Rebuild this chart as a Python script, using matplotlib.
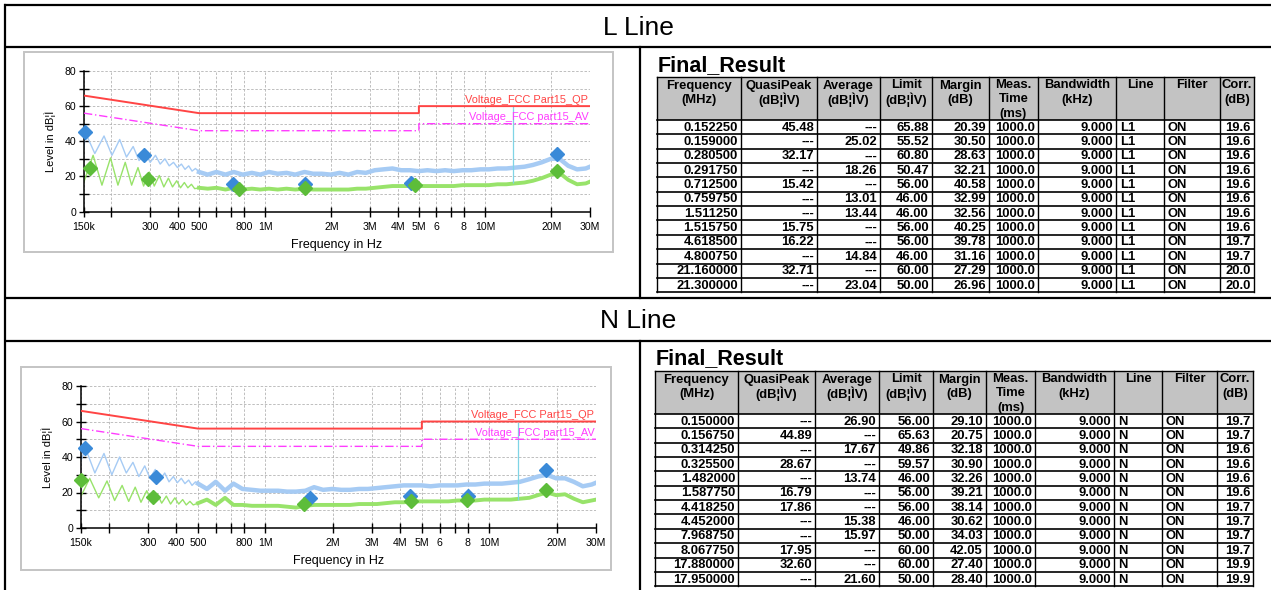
import matplotlib
matplotlib.use("Agg")
import matplotlib.pyplot as plt
from matplotlib import font_manager
from matplotlib.patches import Rectangle
from matplotlib.ticker import FixedLocator, FixedFormatter, NullFormatter

W, H = 1271, 590

installed = {f.name for f in font_manager.fontManager.ttflist}
SANS = "Liberation Sans" if "Liberation Sans" in installed else "DejaVu Sans"
NARROW = "Liberation Sans Narrow" if "Liberation Sans Narrow" in installed else SANS

# ---------------- data ----------------
# x ticks of the EMI plots (MHz)
tick_mhz = [0.15, 0.2, 0.3, 0.4, 0.5, 0.6, 0.7, 0.8, 1, 2, 3, 4, 5, 6, 7, 8, 10, 20, 30]
tick_labels = ["150k", "", "300", "400", "500", "", "", "800", "1M", "2M", "3M",
               "4M", "5M", "6", "", "8", "10M", "20M", "30M"]

# FCC Part 15 limit lines
limit_mhz = [0.15, 0.5, 5, 5, 30]
qp_limit = [66, 56, 56, 60, 60]
av_limit = [56, 46, 46, 50, 50]
cursor_mhz = 13.4

# spectrum traces, low-frequency ripple part
l_pk_osc_mhz = [0.150, 0.1522, 0.168, 0.185, 0.201, 0.218, 0.234, 0.251, 0.267, 0.284, 0.300,
                0.317, 0.333, 0.350, 0.366, 0.383, 0.399, 0.416, 0.432, 0.449, 0.465, 0.482, 0.50]
l_pk_osc_db = [36, 45, 33, 43, 32, 41, 31, 37, 29, 33.5, 28,
               32, 27, 30, 26, 28, 25, 27, 24, 26, 23, 24.5, 22.5]
l_av_osc_mhz = [0.150, 0.165, 0.181, 0.198, 0.214, 0.231, 0.247, 0.264, 0.280, 0.297, 0.313,
                0.330, 0.346, 0.363, 0.379, 0.396, 0.412, 0.429, 0.445, 0.462, 0.478, 0.50]
l_av_osc_db = [17, 32, 15, 30.5, 15, 28, 15, 25, 14.5, 22.5, 14.5,
               20.5, 14, 19, 14, 17.5, 13.5, 16.5, 13.5, 15.5, 13, 13.5]
n_pk_osc_mhz = [0.150, 0.157, 0.173, 0.190, 0.206, 0.223, 0.239, 0.256, 0.272, 0.289, 0.305,
                0.322, 0.338, 0.355, 0.371, 0.388, 0.404, 0.421, 0.437, 0.454, 0.470, 0.487, 0.50]
n_pk_osc_db = [38, 45, 31, 42, 30, 40, 31, 37, 29, 35, 28,
               33, 27, 31, 26, 29, 25.5, 28, 25, 27, 24, 26, 25]
n_av_osc_mhz = [0.150, 0.164, 0.180, 0.196, 0.212, 0.229, 0.245, 0.262, 0.278, 0.295, 0.311,
                0.328, 0.344, 0.361, 0.377, 0.394, 0.410, 0.427, 0.443, 0.460, 0.476, 0.50]
n_av_osc_db = [18, 28, 17, 26.5, 15.5, 24, 15, 23, 14.5, 21, 14.5,
               19.5, 14, 18, 13.5, 17, 13.5, 16, 13, 15, 13, 14]

# spectrum traces, broadband noise part
band_mhz = [0.50, 0.548, 0.60, 0.66, 0.72, 0.79, 0.87, 0.95, 1.04, 1.14, 1.25, 1.37, 1.51,
            1.65, 1.81, 1.99, 2.18, 2.39, 2.62, 2.87, 3.15, 3.45, 3.79, 4.15, 4.55, 4.99,
            5.47, 6.00, 6.58, 7.21, 7.91, 8.67, 9.51, 10.4, 11.4, 12.5, 13.7, 15.1, 16.5,
            18.1, 19.9, 21.8, 23.9, 26.2, 28.7, 30.0]
l_pk_band = [22.5, 21, 22.5, 21, 22.5, 21, 22, 21, 22.5, 21.5, 22, 21, 22.5,
             21.5, 21.5, 21, 22, 21, 22.5, 22, 23.5, 24, 24.5, 23.5, 23.5, 23,
             23.5, 23, 23.5, 23, 23.5, 23.5, 24, 24, 24.5, 24.5, 25, 25.5, 26.5,
             28, 30, 30, 26, 24, 24.5, 25.5]
l_av_band = [13.5, 13, 13.5, 12.5, 13.5, 12.5, 13, 12.5, 13, 12.5, 13, 12.5, 13,
             12.5, 12.5, 12.5, 12.5, 12.5, 13, 13, 13.5, 14, 14.5, 14.5, 14.5, 14.5,
             14.5, 14.5, 14.5, 14.5, 15, 15, 15, 15, 15.5, 15.5, 16, 16.5, 17.5,
             19, 21, 22, 18, 15.5, 16, 17]
n_pk_band = [25, 22, 26, 21, 25, 22, 21.5, 21, 21, 21, 20.5, 20.5, 21,
             23, 21.5, 22, 21.5, 21.5, 22, 22, 22.5, 23, 23.5, 24, 24, 24,
             23.5, 24, 24, 24, 24.5, 24.5, 25, 25, 25, 25.5, 26, 27.5, 29,
             30, 28, 28, 26, 23.5, 24.5, 25.5]
n_av_band = [14, 16, 13, 17, 13, 13, 12.5, 12.5, 12.5, 12.5, 12, 11.5, 12.5,
             13, 13, 13, 13, 13, 13.5, 13.5, 13.5, 14, 14.5, 14.5, 15, 15,
             15, 15, 15, 15.5, 15.5, 15.5, 16, 16, 16, 16, 16.5, 17, 18.5,
             20, 18.5, 19, 16.5, 14.5, 15.5, 16]

# Final_Result tables (None = "---")
l_freq = [0.152250, 0.159000, 0.280500, 0.291750, 0.712500, 0.759750,
          1.511250, 1.515750, 4.618500, 4.800750, 21.160000, 21.300000]
l_qp = [45.48, None, 32.17, None, 15.42, None, None, 15.75, 16.22, None, 32.71, None]
l_av = [None, 25.02, None, 18.26, None, 13.01, 13.44, None, None, 14.84, None, 23.04]
l_limit = [65.88, 55.52, 60.80, 50.47, 56.00, 46.00, 46.00, 56.00, 56.00, 46.00, 60.00, 50.00]
l_margin = [20.39, 30.50, 28.63, 32.21, 40.58, 32.99, 32.56, 40.25, 39.78, 31.16, 27.29, 26.96]
l_corr = [19.6, 19.6, 19.6, 19.6, 19.6, 19.6, 19.6, 19.6, 19.7, 19.7, 20.0, 20.0]

n_freq = [0.150000, 0.156750, 0.314250, 0.325500, 1.482000, 1.587750,
          4.418250, 4.452000, 7.968750, 8.067750, 17.880000, 17.950000]
n_qp = [None, 44.89, None, 28.67, None, 16.79, 17.86, None, None, 17.95, 32.60, None]
n_av = [26.90, None, 17.67, None, 13.74, None, None, 15.38, 15.97, None, None, 21.60]
n_limit = [56.00, 65.63, 49.86, 59.57, 46.00, 56.00, 56.00, 46.00, 50.00, 60.00, 60.00, 50.00]
n_margin = [29.10, 20.75, 32.18, 30.90, 32.26, 39.21, 38.14, 30.62, 34.03, 42.05, 27.40, 28.40]
n_corr = [19.7, 19.7, 19.6, 19.6, 19.6, 19.6, 19.7, 19.7, 19.7, 19.7, 19.9, 19.9]

headers = [["Frequency", "(MHz)"], ["QuasiPeak", "(dB\u00a6\u00ccV)"], ["Average", "(dB\u00a6\u00ccV)"],
           ["Limit", "(dB\u00a6\u00ccV)"], ["Margin", "(dB)"], ["Meas.", "Time", "(ms)"],
           ["Bandwidth", "(kHz)"], ["Line"], ["Filter"], ["Corr.", "(dB)"]]

# ---------------- layout / styles ----------------
RED = "#ff4444"
MAGENTA = "#ff3cff"
PK_TRACE = "#a6cbf4"
AV_TRACE = "#98e36a"
PK_MARK = "#3a8ad8"
AV_MARK = "#5dbd3a"

fig = plt.figure(figsize=(W / 100, H / 100), dpi=100)
bg = fig.add_axes([0, 0, 1, 1])
bg.set_xlim(0, W)
bg.set_ylim(H, 0)
bg.axis("off")

# outer frame of the report table
for y in (5, 47, 298, 341):
    bg.plot([4, W], [y, y], color="black", lw=1.6, solid_capstyle="butt")
bg.plot([5, 5], [5, H], color="black", lw=1.6)
bg.plot([640, 640], [47, 298], color="black", lw=1.6)
bg.plot([640, 640], [341, H], color="black", lw=1.6)
bg.text(638, 28, "L Line", ha="center", va="center", fontsize=19, family=SANS)
bg.text(638, 321, "N Line", ha="center", va="center", fontsize=19, family=SANS)


def px_axes(x0, y0, x1, y1):
    return fig.add_axes([x0 / W, 1 - y1 / H, (x1 - x0) / W, (y1 - y0) / H])


def draw_chart(box, area, pk_osc, av_osc, pk_band, av_band, freq, qp, av):
    bx0, by0, bx1, by1 = box
    bg.add_patch(Rectangle((bx0, by0), bx1 - bx0, by1 - by0, facecolor="white",
                           edgecolor="#c4c4c4", lw=1.4))
    ax = px_axes(*area)
    ax.set_facecolor("none")
    ax.set_xscale("log")
    ax.set_xlim(0.15, 30)
    ax.set_ylim(0, 80)

    ax.xaxis.set_major_locator(FixedLocator(tick_mhz))
    ax.xaxis.set_major_formatter(FixedFormatter(tick_labels))
    ax.xaxis.set_minor_locator(FixedLocator([]))
    ax.xaxis.set_minor_formatter(NullFormatter())
    ax.yaxis.set_major_locator(FixedLocator([0, 20, 40, 60, 80]))
    ax.yaxis.set_minor_locator(FixedLocator([10, 30, 50, 70]))
    ax.grid(True, which="both", color="#b4b4b4", lw=0.6, ls=(0, (3, 2)))
    ax.tick_params(which="both", direction="inout", length=7, width=1, color="black",
                   labelsize=7.6, pad=2)
    ax.tick_params(axis="x", pad=4)
    for lab in ax.get_xticklabels() + ax.get_yticklabels():
        lab.set_family(SANS)
    for s in ("top", "right"):
        ax.spines[s].set_visible(False)
    for s in ("left", "bottom"):
        ax.spines[s].set_linewidth(1.1)
    ax.set_xlabel("Frequency in Hz", fontsize=9, family=SANS, labelpad=5)
    ax.set_ylabel("Level in dB\u00a6\u00cc", fontsize=8, family=SANS, labelpad=6)

    # traces
    ax.plot(pk_osc[0], pk_osc[1], color=PK_TRACE, lw=1.0, zorder=2)
    ax.plot(band_mhz, pk_band, color=PK_TRACE, lw=3.2, zorder=2)
    ax.plot(av_osc[0], av_osc[1], color=AV_TRACE, lw=1.0, zorder=2)
    ax.plot(band_mhz, av_band, color=AV_TRACE, lw=2.8, zorder=2)

    # limits
    ax.plot(limit_mhz, qp_limit, color=RED, lw=1.4, zorder=3)
    ax.plot(limit_mhz, av_limit, color=MAGENTA, lw=1.0, ls=(0, (6, 2, 1, 2)), zorder=3)
    ax.text(29.5, 60.8, "Voltage_FCC Part15_QP", color=RED, fontsize=7.9,
            family=SANS, ha="right", va="bottom")
    ax.text(29.5, 50.8, "Voltage_FCC part15_AV", color=MAGENTA, fontsize=7.9,
            family=SANS, ha="right", va="bottom")
    ax.vlines(cursor_mhz, 16, 60, color="#7fd4e6", lw=0.9, zorder=2)

    # final measurement markers
    qx = [f for f, v in zip(freq, qp) if v is not None]
    qy = [v for v in qp if v is not None]
    axx = [f for f, v in zip(freq, av) if v is not None]
    ayy = [v for v in av if v is not None]
    ax.plot(qx, qy, ls="none", marker="D", ms=7, color=PK_MARK, zorder=5, clip_on=False)
    ax.plot(axx, ayy, ls="none", marker="D", ms=7, color=AV_MARK, zorder=5, clip_on=False)
    return ax


draw_chart((24, 52, 613, 252), (84, 71, 590, 211.5),
           (l_pk_osc_mhz, l_pk_osc_db), (l_av_osc_mhz, l_av_osc_db),
           l_pk_band, l_av_band, l_freq, l_qp, l_av)
draw_chart((21, 367, 611, 570), (81, 386, 596, 528),
           (n_pk_osc_mhz, n_pk_osc_db), (n_av_osc_mhz, n_av_osc_db),
           n_pk_band, n_av_band, n_freq, n_qp, n_av)


def fmt(v, nd):
    return "---" if v is None else f"{v:.{nd}f}"


def draw_table(x_edges, title_y, top, head_bot, freq, qp, av, limit, margin, corr, line):
    bg.text(x_edges[0] + 1, title_y, "Final_Result", fontsize=15.5, fontweight="bold",
            family=NARROW, ha="left", va="center")
    row_h = 14.35
    nrows = len(freq)
    bottom = head_bot + nrows * row_h
    bg.add_patch(Rectangle((x_edges[0], top), x_edges[-1] - x_edges[0], head_bot - top,
                           facecolor="#c3c3c3", edgecolor="none"))
    # header text
    for i, lines in enumerate(headers):
        cx = (x_edges[i] + x_edges[i + 1]) / 2
        for j, t in enumerate(lines):
            bg.text(cx, top + 8.5 + j * 14, t, fontsize=9.4, fontweight="bold",
                    family=NARROW, ha="center", va="center")
    # grid
    for x in x_edges:
        bg.plot([x, x], [top, bottom], color="black", lw=1.0)
    bg.plot([x_edges[0], x_edges[-1]], [top, top], color="black", lw=1.0)
    for r in range(nrows + 1):
        y = head_bot + r * row_h
        bg.plot([x_edges[0], x_edges[-1]], [y, y], color="black", lw=1.2)
    # body
    for r in range(nrows):
        yc = head_bot + r * row_h + row_h / 2 + 0.5
        cells = [f"{freq[r]:.6f}", fmt(qp[r], 2), fmt(av[r], 2), f"{limit[r]:.2f}",
                 f"{margin[r]:.2f}", "1000.0", "9.000", line, "ON", f"{corr[r]:.1f}"]
        aligns = ["r", "r", "r", "r", "r", "r", "r", "l", "l", "r"]
        for c, (t, a) in enumerate(zip(cells, aligns)):
            if a == "r":
                bg.text(x_edges[c + 1] - 3, yc, t, fontsize=9.4, fontweight="bold",
                        family=NARROW, ha="right", va="center")
            else:
                bg.text(x_edges[c] + 4, yc, t, fontsize=9.4, fontweight="bold",
                        family=NARROW, ha="left", va="center")


draw_table([657, 741, 817, 880, 932, 989, 1038, 1116, 1164, 1220, 1254], 66, 77, 120,
           l_freq, l_qp, l_av, l_limit, l_margin, l_corr, "L1")
draw_table([655, 738, 815, 879, 933, 986, 1035, 1114, 1162, 1217, 1253], 359, 371, 414,
           n_freq, n_qp, n_av, n_limit, n_margin, n_corr, "N")

fig.savefig("out.png", dpi=100)
